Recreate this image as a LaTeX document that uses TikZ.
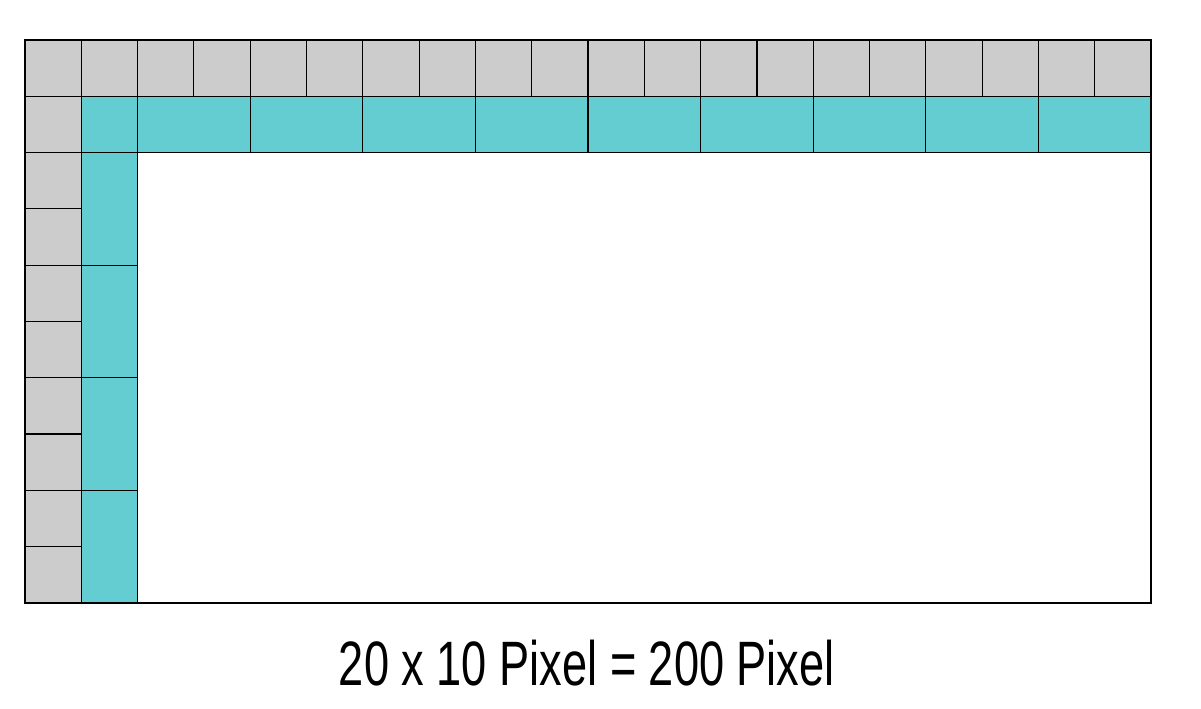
\documentclass[tikz,border=0pt]{standalone}
\usepackage{fontspec}
\newfontfamily\captionfont[FakeStretch=0.72]{Liberation Sans}
\definecolor{cellgray}{HTML}{CCCCCC}
\definecolor{cellteal}{HTML}{64CDD2}
\tikzset{
  graycell/.style={draw=black, fill=cellgray, line width=0.6pt},
  tealcell/.style={draw=black, fill=cellteal, line width=0.6pt}
}
\begin{document}
\begin{tikzpicture}
\useasboundingbox (-0.444,0.71) rectangle (20.888,-11.883);
\foreach \i in {0,...,19}
  \draw[graycell] (\i,0) rectangle ++(1,-1);
\foreach \j in {1,...,9}
  \draw[graycell] (0,-\j) rectangle ++(1,-1);
\draw[tealcell] (1,-1) rectangle (2,-2);
\foreach \i in {2,4,...,18}
  \draw[tealcell] (\i,-1) rectangle ++(2,-1);
\foreach \j in {2,4,6,8}
  \draw[tealcell] (1,-\j) rectangle ++(1,-2);
\draw[line width=0.6pt] (0,0) rectangle (20,-10);
\node[font=\captionfont\fontsize{31.7}{36}\selectfont] (caption) at (9.98,-11.06) {20 x 10 Pixel = 200 Pixel};
\end{tikzpicture}
\end{document}
